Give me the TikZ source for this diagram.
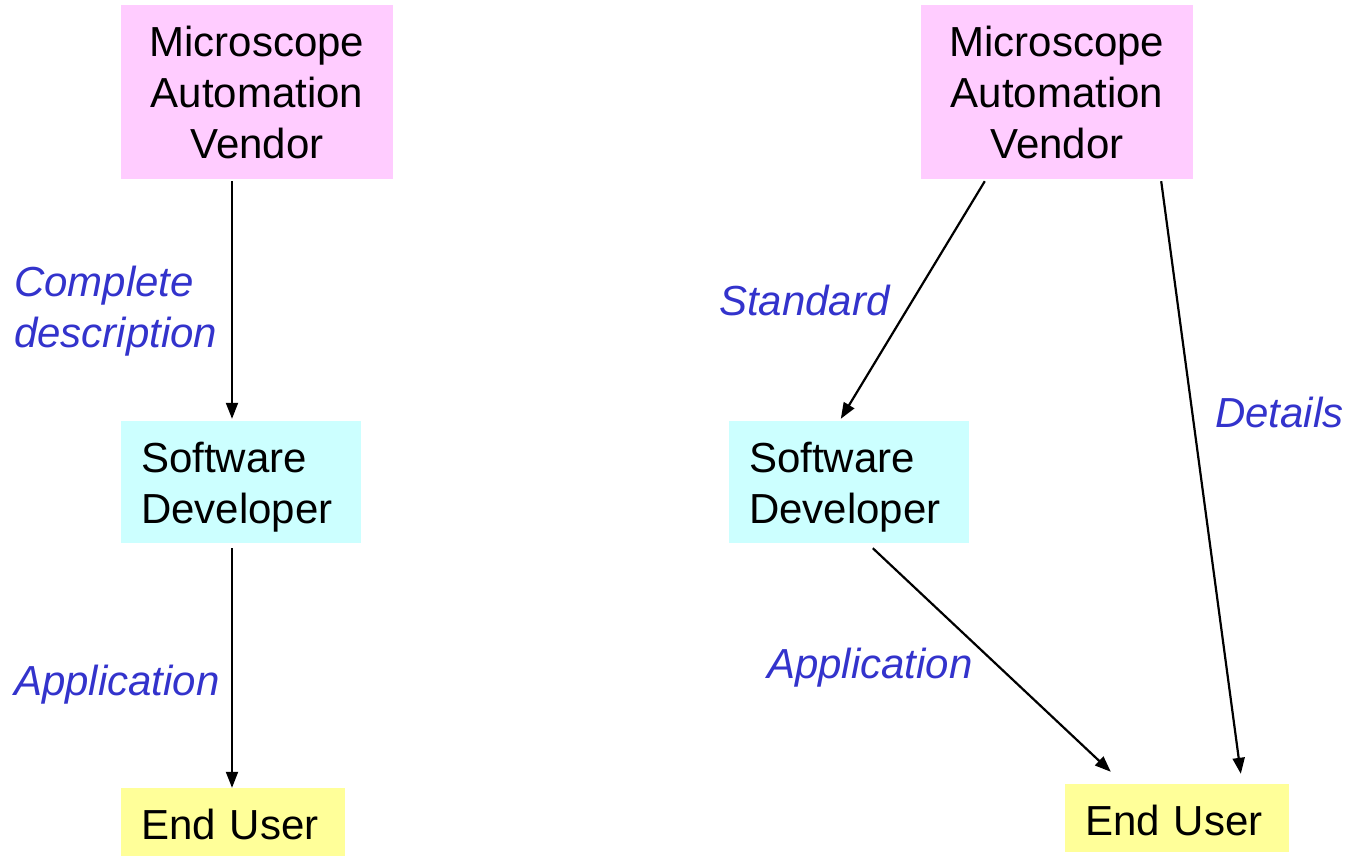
\documentclass[tikz,border=0pt]{standalone}
\usepackage{fontspec}
\setmainfont{Liberation Sans}
\usetikzlibrary{arrows.meta}
\definecolor{boxpink}{HTML}{FFCCFF}
\definecolor{boxcyan}{HTML}{CCFFFF}
\definecolor{boxyellow}{HTML}{FFFF99}
\definecolor{lblblue}{HTML}{3333CC}
\newcommand{\lowtext}[2]{\raisebox{-#1}[\height][\depth]{\begin{tabular}{@{}l@{}}#2\end{tabular}}}
\tikzset{
  bigtext/.style={font=\fontsize{42}{51}\selectfont},
  vendorbox/.style={bigtext, fill=boxpink, draw=none, minimum width=272pt, minimum height=174pt, align=center, inner sep=0pt},
  devbox/.style={bigtext, fill=boxcyan, draw=none, text width=200pt, inner xsep=20pt, inner ysep=0pt, minimum height=122pt, align=left},
  userbox/.style={bigtext, fill=boxyellow, draw=none, text width=184pt, inner xsep=20pt, inner ysep=0pt, minimum height=68pt, align=left},
  lbl/.style={font=\fontsize{42}{51}\selectfont\itshape, text=lblblue, inner sep=0pt, align=left},
  conn/.style={line width=2.2pt, -{Triangle[length=16pt,width=12pt]}}
}
\begin{document}
\begin{tikzpicture}[x=1pt,y=-1pt]
\useasboundingbox (0,0) rectangle (1353,856);
% left column
\node[vendorbox] (v1) at (257,92) {Microscope\\Automation\\Vendor};
\node[devbox] (s1) at (241,482) {\lowtext{6pt}{Software\\Developer}};
\node[userbox] (u1) at (233,822) {\lowtext{7pt}{End User}};
\draw[conn] ([yshift=-2pt]v1.south -| 232,0) -- ([yshift=2pt]s1.north -| 232,0);
\draw[conn] ([yshift=-5pt]s1.south -| 232,0) -- (u1.north -| 232,0);
\node[lbl, anchor=west] (l1) at (14,311) {Complete\\description};
\node[lbl, anchor=west] (l2) at (14,685) {Application};
% right column
\node[vendorbox] (v2) at (1057,92) {Microscope\\Automation\\Vendor};
\node[devbox] (s2) at (849,482) {\lowtext{6pt}{Software\\Developer}};
\node[userbox] (u2) at (1177,818) {\lowtext{7pt}{End User}};
\draw[conn] ([xshift=64pt,yshift=-2pt]v2.south west) -- ([xshift=112pt,yshift=2pt]s2.north west);
\draw[conn] ([xshift=-32pt,yshift=-2pt]v2.south east) -- ([xshift=176pt,yshift=10pt]u2.north west);
\draw[conn] ([xshift=144pt,yshift=-5pt]s2.south west) -- ([xshift=46pt,yshift=12pt]u2.north west);
\node[lbl, anchor=west] (l3) at (719,300) {Standard};
\node[lbl, anchor=west] (l4) at (1215,412) {Details};
\node[lbl, anchor=west] (l5) at (767,668) {Application};
\end{tikzpicture}
\end{document}
